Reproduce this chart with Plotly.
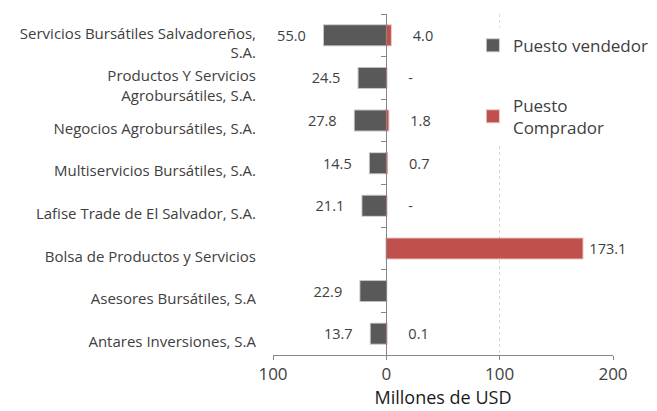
import plotly.graph_objects as go

# entidades (orden de arriba hacia abajo)
puestos = [
    "Servicios Bursátiles Salvadoreños,<br>S.A.",
    "Productos Y Servicios<br>Agrobursátiles, S.A.",
    "Negocios Agrobursátiles, S.A.",
    "Multiservicios Bursátiles, S.A.",
    "Lafise Trade de El Salvador, S.A.",
    "Bolsa de Productos y Servicios",
    "Asesores Bursátiles, S.A",
    "Antares Inversiones, S.A",
]
vendedor = [55.0, 24.5, 27.8, 14.5, 21.1, None, 22.9, 13.7]
comprador = [4.0, 0.0, 1.8, 0.7, 0.0, 173.1, None, 0.1]

x_ticks = [-100, 0, 100, 200]
x_ticktext = ["100", "0", "100", "200"]

GRIS = "#595959"
ROJO = "#c0504d"
TXT = "#404040"
FONT = "Open Sans"

nb = "\u00a0"

def lbl_vend(v):
    return "" if v is None else f"{v:.1f}" + nb * 4

def lbl_comp(v):
    if v is None:
        return ""
    if v == 0:
        return nb * 5 + "-"
    if v > 100:
        return nb + f"{v:.1f}"
    return nb * 5 + f"{v:.1f}"

fig = go.Figure()

fig.add_trace(go.Bar(
    y=puestos, x=[-v if v is not None else None for v in vendedor],
    orientation="h", name="Puesto vendedor", legendgroup="v",
    marker=dict(color=GRIS, line=dict(color="rgba(89,89,89,0.35)", width=2)),
    width=0.47,
    text=[lbl_vend(v) for v in vendedor], textposition="outside",
    textfont=dict(family=FONT, size=16, color=TXT),
    cliponaxis=False,
))

fig.add_trace(go.Bar(
    y=puestos, x=comprador, yaxis="y2",
    orientation="h", name="Puesto<br>Comprador", legendgroup="c",
    marker=dict(color=ROJO, line=dict(color="rgba(192,80,77,0.35)", width=2)),
    width=0.47,
    text=[lbl_comp(v) for v in comprador], textposition="outside",
    textfont=dict(family=FONT, size=16, color=TXT),
    cliponaxis=False,
))

fig.update_layout(
    width=657, height=411,
    margin=dict(l=265, r=52, t=6, b=64, autoexpand=False),
    paper_bgcolor="white", plot_bgcolor="white",
    barmode="overlay",
    font=dict(family=FONT, color=TXT),
    xaxis=dict(
        range=[-100, 200], tickvals=x_ticks, ticktext=x_ticktext,
        showgrid=True, gridcolor="#d9d9d9", griddash="dot", gridwidth=1,
        zeroline=False, showline=True, linecolor="#868686",
        ticks="outside", ticklen=4, tickcolor="#868686", automargin=False,
        tickfont=dict(family=FONT, size=17, color=TXT),
        title=dict(text="Millones de USD", standoff=6,
                   font=dict(family=FONT, size=18, color="#1a1a1a")),
    ),
    yaxis=dict(
        type="category", categoryorder="array", categoryarray=puestos,
        range=[7.5, -0.5], showgrid=False, showline=False, ticks="",
        automargin=False,
        tickfont=dict(family=FONT, size=15, color=TXT),
        ticklabelstandoff=16, ticklabelshift=-8,
    ),
    yaxis2=dict(
        type="category", categoryorder="array", categoryarray=puestos,
        range=[7.5, -0.5], overlaying="y", anchor="free", position=1 / 3,
        showgrid=False, showline=True, linecolor="#868686", automargin=False,
        ticks="outside", tickson="boundaries", ticklen=5, tickcolor="#868686",
        showticklabels=False,
    ),
    legend=dict(
        x=0.588, y=0.96, xanchor="left", yanchor="top",
        bgcolor="white", tracegroupgap=35, traceorder="grouped",
        font=dict(family=FONT, size=17, color=TXT),
    ),
)

fig.write_html("out.html")
